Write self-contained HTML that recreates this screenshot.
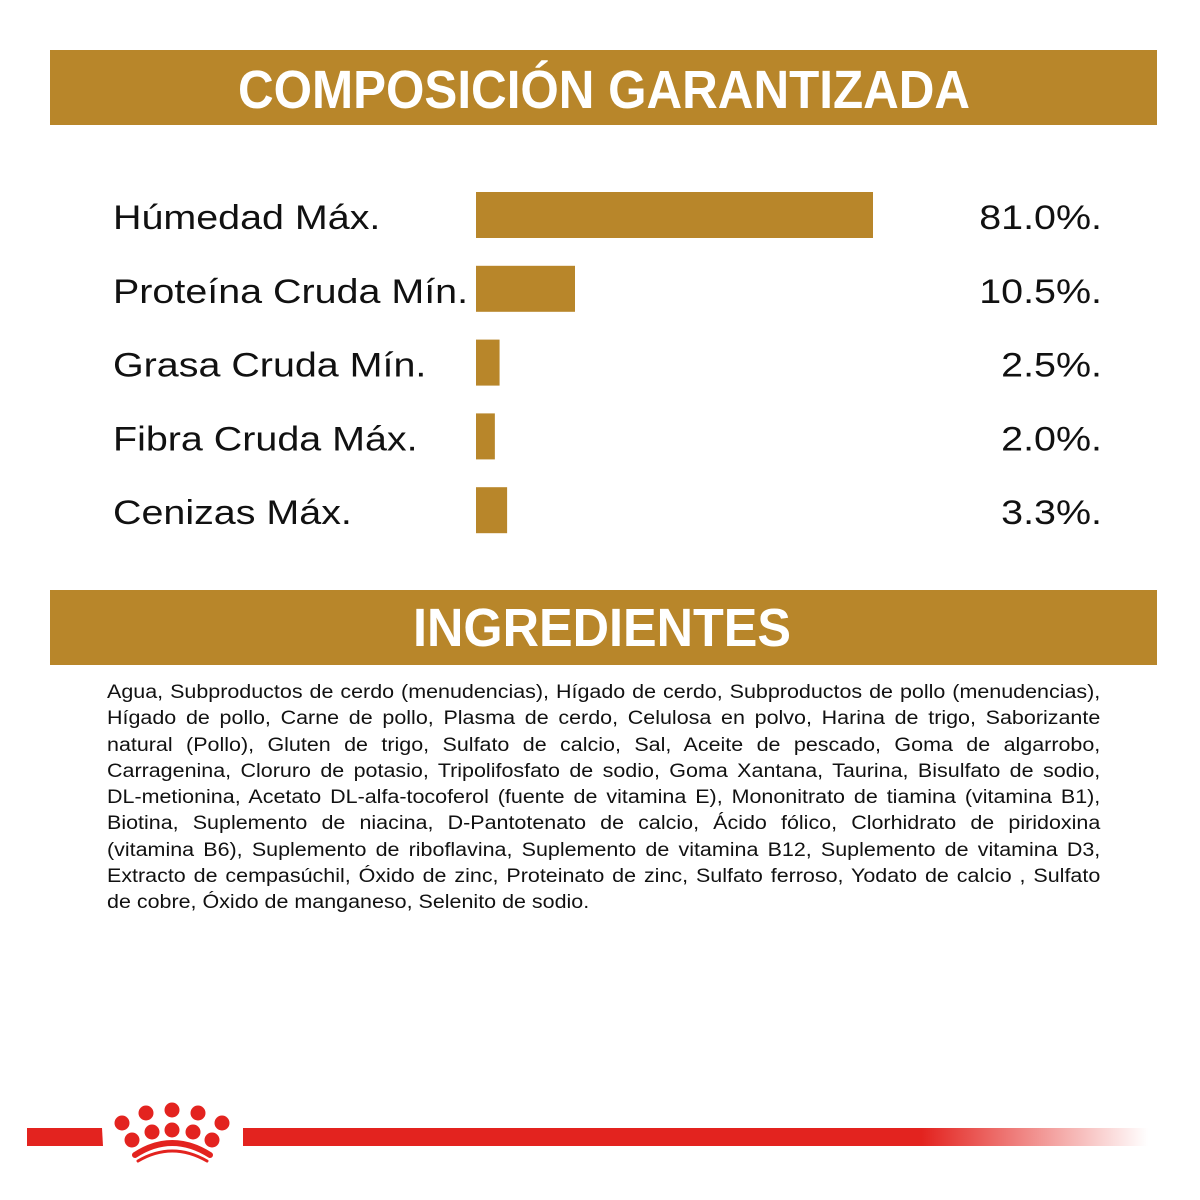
<!DOCTYPE html>
<html><head><meta charset="utf-8">
<style>
html,body{margin:0;padding:0;background:#fff;}
#wrap{position:relative;width:1200px;height:1200px;overflow:hidden;}
svg{position:absolute;left:0;top:0;}
#ingr{position:absolute;left:107px;top:680px;width:879px;font-family:"Liberation Sans",Arial,sans-serif;font-size:19px;line-height:26.3px;color:#111;transform:scaleX(1.13);transform-origin:0 0;}
#ingr div{white-space:nowrap;text-align:justify;text-align-last:justify;}
#ingr div.last{text-align-last:left;}
</style></head><body>
<div id="wrap">
<svg id="chart" width="1200" height="1200" viewBox="0 0 1200 1200">
  <rect x="50" y="50" width="1107" height="75" fill="#B8862A"/>
  <text x="238" y="108" textLength="732" lengthAdjust="spacingAndGlyphs" font-family="Liberation Sans Narrow, Liberation Sans, sans-serif" font-weight="bold" font-size="54" fill="#fff">COMPOSICIÓN GARANTIZADA</text>
  <g id="bars"></g>
  <rect x="50" y="590" width="1107" height="75" fill="#B8862A"/>
  <text x="413" y="646" textLength="378" lengthAdjust="spacingAndGlyphs" font-family="Liberation Sans Narrow, Liberation Sans, sans-serif" font-weight="bold" font-size="54" fill="#fff">INGREDIENTES</text>
  <defs><linearGradient id="fade" x1="0" x2="1" y1="0" y2="0">
    <stop offset="0" stop-color="#E3231F"/><stop offset="0.75" stop-color="#E3231F"/><stop offset="1" stop-color="#E3231F" stop-opacity="0"/></linearGradient></defs>
  <g>
    <polygon points="27,1128 102,1128 103,1146 27,1146" fill="#E3231F"/>
    <rect x="243" y="1128" width="905" height="18" fill="url(#fade)"/>
    <g fill="#E3231F">
      <circle cx="172" cy="1110" r="7.5"/><circle cx="146" cy="1113" r="7.5"/><circle cx="198" cy="1113" r="7.5"/>
      <circle cx="122" cy="1123" r="7.5"/><circle cx="222" cy="1123" r="7.5"/>
      <circle cx="152" cy="1132" r="7.5"/><circle cx="172" cy="1130" r="7.5"/><circle cx="193" cy="1132" r="7.5"/>
      <circle cx="132" cy="1140" r="7.5"/><circle cx="212" cy="1140" r="7.5"/>
      <path d="M135,1155 Q172,1131 210,1155" stroke="#E3231F" stroke-width="6" fill="none" stroke-linecap="round"/>
      <path d="M138,1161 Q172,1141 207,1161" stroke="#E3231F" stroke-width="3" fill="none" stroke-linecap="round"/>
    </g>
  </g>
</svg>
<div id="ingr">
<div>Agua, Subproductos de cerdo (menudencias), Hígado de cerdo, Subproductos de pollo (menudencias),</div>
<div>Hígado de pollo, Carne de pollo, Plasma de cerdo, Celulosa en polvo, Harina de trigo, Saborizante</div>
<div>natural (Pollo), Gluten de trigo, Sulfato de calcio, Sal, Aceite de pescado, Goma de algarrobo,</div>
<div>Carragenina, Cloruro de potasio, Tripolifosfato de sodio, Goma Xantana, Taurina, Bisulfato de sodio,</div>
<div>DL-metionina, Acetato DL-alfa-tocoferol (fuente de vitamina E), Mononitrato de tiamina (vitamina B1),</div>
<div>Biotina, Suplemento de niacina, D-Pantotenato de calcio, Ácido fólico, Clorhidrato de piridoxina</div>
<div>(vitamina B6), Suplemento de riboflavina, Suplemento de vitamina B12, Suplemento de vitamina D3,</div>
<div>Extracto de cempasúchil, Óxido de zinc, Proteinato de zinc, Sulfato ferroso, Yodato de calcio , Sulfato</div>
<div class="last">de cobre, Óxido de manganeso, Selenito de sodio.</div>
</div>
</div>
<script>
const categories = ["Húmedad Máx.", "Proteína Cruda Mín.", "Grasa Cruda Mín.", "Fibra Cruda Máx.", "Cenizas Máx."];
const values = [81.0, 10.5, 2.5, 2.0, 3.3];
const valueLabels = ["81.0%.", "10.5%.", "2.5%.", "2.0%.", "3.3%."];

const NS = "http://www.w3.org/2000/svg";
const barX0 = 476;
// piecewise-linear axis: domain [0,10.5,81] -> range [0,99,397]
function xScale(v){
  if (v <= 10.5) return v * 99 / 10.5;
  return 99 + (v - 10.5) * (397 - 99) / (81 - 10.5);
}
function yScale(i){ return 192 + i * 73.8; }
const g = document.getElementById("bars");
categories.forEach((c, i) => {
  const y = yScale(i);
  const lab = document.createElementNS(NS, "text");
  lab.setAttribute("transform", "translate(113," + (y + 37) + ") scale(1.16,1)");
  lab.setAttribute("font-family", "Liberation Sans, Arial, sans-serif");
  lab.setAttribute("font-size", "34"); lab.setAttribute("fill", "#111");
  lab.textContent = c;
  
  
  g.appendChild(lab);
  const r = document.createElementNS(NS, "rect");
  r.setAttribute("x", barX0); r.setAttribute("y", y);
  r.setAttribute("width", xScale(values[i])); r.setAttribute("height", 46);
  r.setAttribute("fill", "#B8862A");
  
  
  g.appendChild(r);
  const vt = document.createElementNS(NS, "text");
  vt.setAttribute("transform", "translate(1102," + (y + 37) + ") scale(1.16,1)");
  vt.setAttribute("text-anchor", "end");
  vt.setAttribute("font-family", "Liberation Sans, Arial, sans-serif");
  vt.setAttribute("font-size", "34"); vt.setAttribute("fill", "#111");
  vt.textContent = valueLabels[i];
  
  
  g.appendChild(vt);
});
</script>
</body></html>
